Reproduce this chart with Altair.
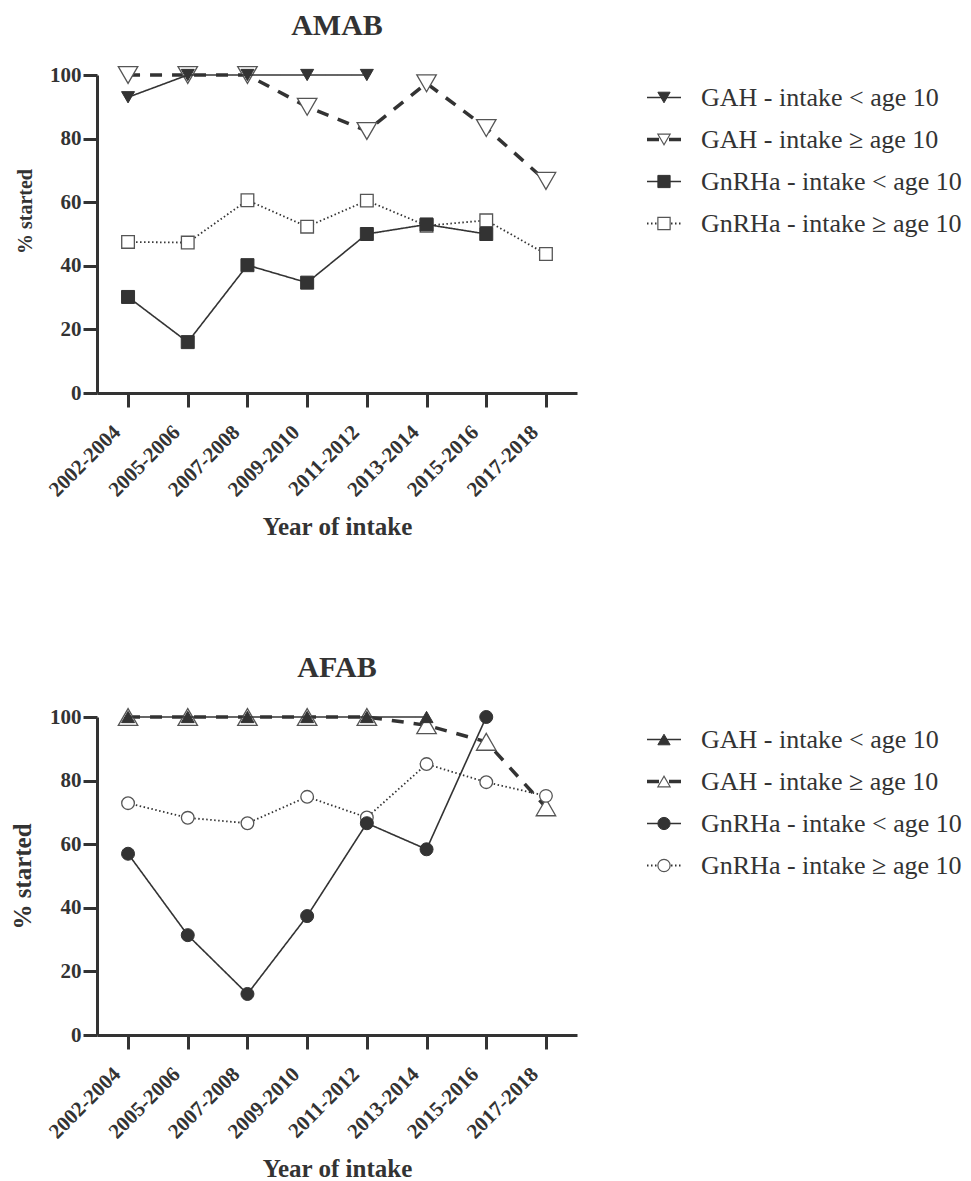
import altair as alt
import pandas as pd

periods = ["2002-2004", "2005-2006", "2007-2008", "2009-2010",
           "2011-2012", "2013-2014", "2015-2016", "2017-2018"]

series = ["GAH - intake < age 10", "GAH - intake \u2265 age 10",
          "GnRHa - intake < age 10", "GnRHa - intake \u2265 age 10"]

# AMAB panel (% started)
amab_gah_lt10 = [93, 100, 100, 100, 100, None, None, None]
amab_gah_ge10 = [100, 100, 100, 90, 82.4, 97.4, 83.3, 66.7]
amab_gnrha_lt10 = [30.2, 16.0, 40.2, 34.7, 50, 53, 50, None]
amab_gnrha_ge10 = [47.5, 47.3, 60.6, 52.3, 60.5, 52.6, 54.3, 43.7]

# AFAB panel (% started)
afab_gah_lt10 = [100, 100, 100, 100, 100, 100, None, None]
afab_gah_ge10 = [100, 100, 100, 100, 100, 97.4, 92.2, 71.6]
afab_gnrha_lt10 = [57.0, 31.4, 12.9, 37.4, 66.6, 58.4, 100, None]
afab_gnrha_ge10 = [72.9, 68.3, 66.6, 74.9, 68.4, 85.2, 79.5, 75.2]

y_ticks = [0, 20, 40, 60, 80, 100]

FONT = "Liberation Serif"
INK = "#333333"
OPEN = "#555555"

W, H = 480, 318

line_style = {
    series[0]: dict(strokeDash=[1, 0], strokeWidth=1.6),
    series[1]: dict(strokeDash=[12, 10], strokeWidth=3.5),
    series[2]: dict(strokeDash=[1, 0], strokeWidth=1.6),
    series[3]: dict(strokeDash=[1.5, 2.5], strokeWidth=1.8),
}
filled = {series[0]: True, series[1]: False, series[2]: True, series[3]: False}


def long_df(cols):
    rows = []
    for s, vals in zip(series, cols):
        for p, v in zip(periods, vals):
            if v is not None:
                rows.append({"period": p, "series": s, "value": v})
    return pd.DataFrame(rows)


def panel(title, cols, shapes, open_tri_size, ytitle_size, ytitle_y=None):
    df = long_df(cols)
    x = alt.X("period:N", sort=periods,
              scale=alt.Scale(type="point", padding=0.52, domain=periods),
              axis=alt.Axis(title="Year of intake", labelAngle=-45,
                            labelFontSize=21, titleFontSize=25,
                            labelPadding=14, labelOffset=-19, titlePadding=14))
    yaxis = dict(title="% started", values=y_ticks, labelFontSize=21,
                 titleFontSize=ytitle_size, labelPadding=2, titlePadding=14)
    if ytitle_y is not None:
        yaxis["titleY"] = ytitle_y
    y = alt.Y("value:Q", scale=alt.Scale(domain=[0, 100], nice=False),
              axis=alt.Axis(**yaxis))

    def line_layer(s):
        return alt.Chart(df).transform_filter(alt.datum.series == s).mark_line(
            color=INK, **line_style[s]).encode(x=x, y=y)

    def point_layer(s, i):
        if filled[s]:
            mk = dict(fill=INK, stroke=INK, strokeWidth=1, size=169)
        else:
            size = open_tri_size if shapes[i].startswith("triangle") else 160
            mk = dict(fill="white", stroke=OPEN, strokeWidth=1.3, size=size)
        return alt.Chart(df).transform_filter(alt.datum.series == s).mark_point(
            shape=shapes[i], opacity=1, filled=True, **mk).encode(x=x, y=y)

    open_s = [s for s in series if not filled[s]]
    fill_s = [s for s in series if filled[s]]
    plot_layers = ([line_layer(s) for s in reversed(open_s)] +
                   [point_layer(s, series.index(s)) for s in open_s] +
                   [line_layer(s) for s in reversed(fill_s)] +
                   [point_layer(s, series.index(s)) for s in fill_s])

    leg_df = pd.DataFrame({"series": series})
    ly = alt.Y("series:N", scale=alt.Scale(type="point", domain=series,
                                           range=[22.5, 148.5], padding=0),
               axis=None)
    leg_layers = []
    for i, s in enumerate(series):
        base = alt.Chart(leg_df).transform_filter(alt.datum.series == s)
        leg_layers.append(base.mark_rule(color=INK, **line_style[s]).encode(
            x=alt.value(550), x2=alt.value(584), y=ly))
        if filled[s]:
            mk = dict(fill=INK, stroke=INK, strokeWidth=1, size=150)
        else:
            mk = dict(fill="white", stroke=OPEN, strokeWidth=1.2, size=150)
        leg_layers.append(base.mark_point(shape=shapes[i], opacity=1,
                                          filled=True, **mk).encode(
            x=alt.value(567), y=ly))
        leg_layers.append(base.mark_text(align="left", baseline="middle",
                                         font=FONT, fontSize=26,
                                         color=INK).encode(
            x=alt.value(604), y=ly, text="series:N"))

    chart = alt.layer(alt.layer(*plot_layers), alt.layer(*leg_layers)).resolve_scale(
        y="independent").properties(
        width=W, height=H,
        title=alt.Title(title, font=FONT, fontSize=30, fontWeight="bold",
                        color=INK, anchor="middle", frame="group", offset=23))
    return chart


top = panel("AMAB", [amab_gah_lt10, amab_gah_ge10, amab_gnrha_lt10, amab_gnrha_ge10],
            ["triangle-down", "triangle-down", "square", "square"], 380, 20, 136)
bottom = panel("AFAB", [afab_gah_lt10, afab_gah_ge10, afab_gnrha_lt10, afab_gnrha_ge10],
               ["triangle-up", "triangle-up", "circle", "circle"], 380, 25)

chart = alt.vconcat(top, bottom, spacing=112).properties(
    padding={"left": 10, "top": 10, "right": 5, "bottom": 0},
    background="white"
).configure_view(stroke=None).configure_axis(
    domainColor=INK, domainWidth=3, tickColor=INK, tickWidth=3, tickSize=14,
    labelFont=FONT, labelFontWeight="bold", labelColor=INK,
    titleFont=FONT, titleFontWeight="bold", titleColor=INK, grid=False
)

chart.save("out.html", embed_options={"renderer": "svg", "actions": False})
